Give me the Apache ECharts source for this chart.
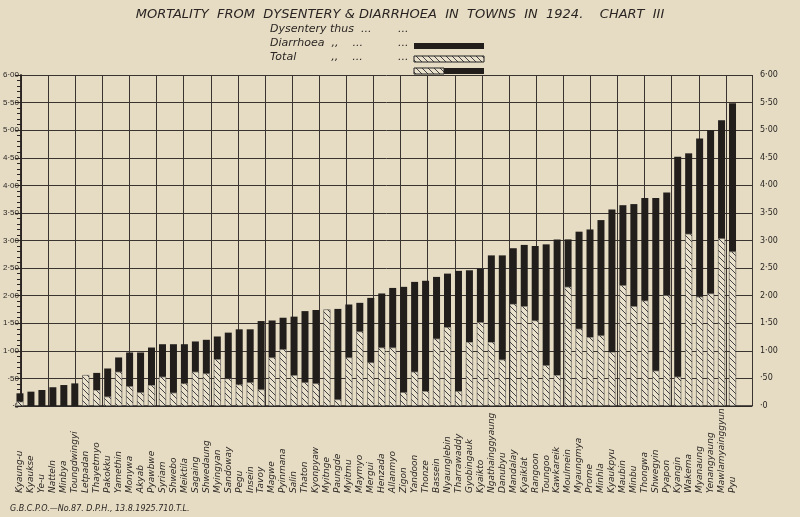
<!DOCTYPE html>
<html><head><meta charset="utf-8">
<script src="https://cdn.jsdelivr.net/npm/echarts@6/dist/echarts.min.js"></script>
<style>html,body{margin:0;background:#e6dcc4;}#c{width:800px;height:517px;}</style>
</head><body><div id="c"></div>
<script>
const towns = ["Kyaung-u","Kyaukse","Ye-u","Natteln","Minbya","Toungdwingyi","Letpadan","Thayetmyo","Pakokku","Yamethin","Monywa","Akyab","Pyawbwe","Syriam","Shwebo","Meiktila","Sagaing","Shwedaung","Myingyan","Sandoway","Pegu","Insein","Tavoy","Magwe","Pyinmana","Salin","Thaton","Kyonpyaw","Myitnge","Paungde","Myitmu","Maymyo","Mergui","Henzada","Allanmyo",
"Zigon","Yandoon","Thonze","Bassein","Nyaunglebin","Tharrawaddy","Gyobingauk","Kyaikto","Ngathainggyaung","Danubyu","Mandalay","Kyaiklat","Rangoon","Toungoo","Kawkareik","Moulmein","Myaungmya","Prome","Minhla","Kyaukpyu","Maubin","Minbu","Thongwa","Shwegyin","Pyapon","Kyangin","Wakema","Myanaung","Yenangyaung","Mawlamyainggyun","Pyu"];
const totalRate = [0.23,0.26,0.29,0.34,0.38,0.41,0.56,0.60,0.68,0.88,0.97,0.97,1.06,1.12,1.12,1.12,1.17,1.20,1.26,1.33,1.39,1.39,1.54,1.55,1.60,1.62,1.72,1.74,1.75,1.76,1.84,1.87,1.96,2.04,2.14,
2.16,2.25,2.27,2.34,2.40,2.45,2.46,2.49,2.73,2.73,2.86,2.92,2.90,2.93,3.02,3.02,3.16,3.20,3.37,3.56,3.64,3.66,3.77,3.77,3.87,4.52,4.58,4.85,5.00,5.18,5.49];
const diarrhoeaRate = [0.08,0,0,0,0,0,0.56,0.29,0.17,0.62,0.36,0.25,0.38,0.53,0.24,0.41,0.62,0.59,0.85,0.50,0.39,0.43,0.30,0.88,1.03,0.56,0.43,0.41,1.75,0.12,0.88,1.35,0.79,1.06,1.06,
0.25,0.62,0.27,1.22,1.43,0.27,1.16,1.52,1.16,0.84,1.85,1.81,1.55,0.74,0.56,2.16,1.40,1.25,1.28,0.98,2.19,1.81,1.91,0.64,2.01,0.53,3.12,1.98,2.04,3.04,2.80];
const yTicks = ["·0","·50","1·00","1·50","2·00","2·50","3·00","3·50","4·00","4·50","5·00","5·50","6·00"];
const dysenteryRate = totalRate.map((t,i)=>+(t-diarrhoeaRate[i]).toFixed(2));

const cv = document.createElement('canvas'); cv.width=6; cv.height=6;
const g = cv.getContext('2d'); g.fillStyle='#e9e1cc'; g.fillRect(0,0,6,6);
g.strokeStyle='#444'; g.lineWidth=1;
g.beginPath(); g.moveTo(0,0); g.lineTo(6,6); g.moveTo(-3,3); g.lineTo(3,9); g.moveTo(3,-3); g.lineTo(9,3); g.stroke();
const hatch = {image: cv, repeat:'repeat'};
const ink = '#2a2522';
const hand = 'italic 11px "DejaVu Sans"';

const chart = echarts.init(document.getElementById('c'));
chart.setOption({
  backgroundColor:'#e6dcc4',
  animation:false,
  grid:[{left:14.5,right:62,top:75,bottom:111},{left:10.5,right:48,top:75,bottom:111}],
  xAxis:[{type:'category',data:towns,gridIndex:0,axisTick:{show:false},axisLine:{show:false},
    axisLabel:{rotate:90,align:'left',interval:0,fontSize:9,fontStyle:'italic',color:ink,margin:87,fontFamily:'DejaVu Sans'}},
    {type:'value',gridIndex:1,min:0,max:741.5,interval:27.5,axisLabel:{show:false},axisTick:{show:false},
    axisLine:{show:true,lineStyle:{color:ink,width:1.5}},
    splitLine:{show:true,lineStyle:{color:'#3a3430',width:1}}}],
  yAxis:[{type:'value',gridIndex:0,min:0,max:6,interval:0.5,show:false,splitLine:{show:false}},
    {type:'value',gridIndex:1,min:0,max:6,interval:0.5,position:'right',
    axisLine:{show:true,lineStyle:{color:ink,width:1.5}},axisTick:{show:true,inside:true,length:6,lineStyle:{color:ink}},
    minorTick:{show:true,splitNumber:5,length:4,lineStyle:{color:ink}},
    axisLabel:{color:ink,fontSize:8,fontFamily:'DejaVu Sans',formatter:v=>yTicks[Math.round(v*2)]},
    splitLine:{show:true,lineStyle:{color:'#3a3430',width:1}}},
    {type:'value',gridIndex:1,min:0,max:6,interval:0.5,position:'left',axisLine:{show:true,lineStyle:{color:ink,width:1.5}},
    axisTick:{show:false},splitLine:{show:false},axisLabel:{color:ink,fontSize:8,margin:2,formatter:v=>yTicks[Math.round(v*2)]}}],
  series:[
    {name:'Diarrhoea',type:'bar',stack:'t',data:diarrhoeaRate,barWidth:7,xAxisIndex:0,yAxisIndex:0,
      itemStyle:{color:hatch,borderColor:'#333',borderWidth:0.5}},
    {name:'Dysentery',type:'bar',stack:'t',data:dysenteryRate,barWidth:7,xAxisIndex:0,yAxisIndex:0,
      itemStyle:{color:'#221e1c'}}
  ],
  graphic:[
    {type:'text',left:'center',top:8,style:{text:'MORTALITY  FROM  DYSENTERY & DIARRHOEA  IN  TOWNS  IN  1924.    CHART  III',font:'italic 13px "DejaVu Sans"',fill:ink}},
    {type:'text',left:270,top:24,style:{text:'Dysentery thus  ...',font:hand,fill:ink}},
    {type:'text',left:270,top:38,style:{text:'Diarrhoea  ,,    ...',font:hand,fill:ink}},
    {type:'text',left:270,top:52,style:{text:'Total          ,,    ...',font:hand,fill:ink}},
    {type:'text',left:398,top:24,style:{text:'...',font:hand,fill:ink}},
    {type:'text',left:398,top:38,style:{text:'...',font:hand,fill:ink}},
    {type:'text',left:398,top:52,style:{text:'...',font:hand,fill:ink}},
    {type:'rect',shape:{x:414,y:43,width:70,height:6},style:{fill:'#221e1c'}},
    {type:'rect',shape:{x:414,y:56,width:70,height:6},style:{fill:hatch,stroke:'#222',lineWidth:1}},
    {type:'rect',shape:{x:414,y:68,width:30,height:6},style:{fill:hatch,stroke:'#222',lineWidth:1}},
    {type:'rect',shape:{x:444,y:68,width:40,height:6},style:{fill:'#221e1c'}},
    {type:'text',left:10,top:505,style:{text:'G.B.C.P.O.—No.87. D.P.H., 13.8.1925.710.T.L.',font:'italic 8px "DejaVu Sans"',fill:ink}}
  ]
});
</script></body></html>
